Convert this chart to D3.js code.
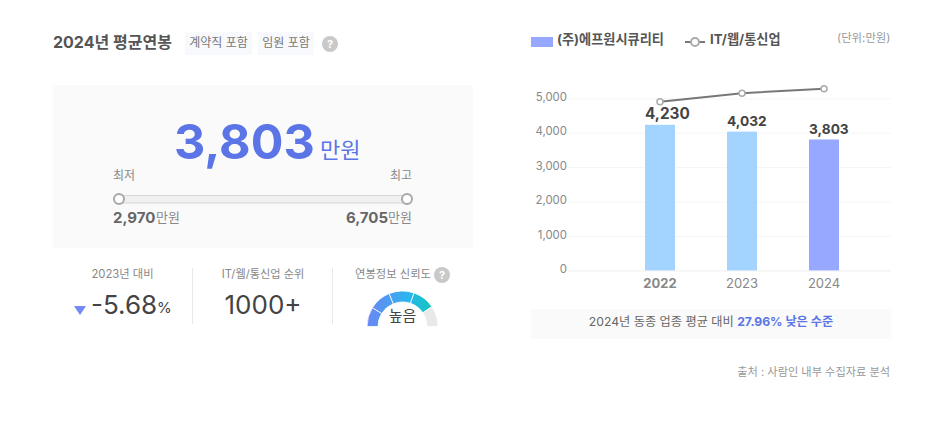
<!DOCTYPE html>
<html>
<head>
<meta charset="utf-8">
<script src="https://d3js.org/d3.v7.min.js"></script>
<style>
body { margin: 0; background: #fff; }
text { font-family: Inter, "Noto Sans CJK KR", sans-serif; }
</style>
</head>
<body>
<div id="vis"></div>
<script>
'use strict';

// 데이터
var years = ['2022', '2023', '2024'];
var companySalary = [4230, 4032, 3803];
var industrySalary = [4900, 5150, 5280];
var yTicks = [0, 1000, 2000, 3000, 4000, 5000];
var salaryMin = 2970;
var salaryMax = 6705;
var salaryAvg = 3803;
var gaugeSegments = [32, 36, 41, 37, 34]; // 신뢰도 게이지 구간(도)
var gaugeFilled = 4;

var svg = d3.select('#vis').append('svg')
	.attr('width', 949)
	.attr('height', 426)
	.style('display', 'block');

function label(x, y, str, size, color, anchor, weight) {
	return svg.append('text')
		.attr('x', x)
		.attr('y', y)
		.attr('dy', '0.35em')
		.attr('text-anchor', anchor || 'start')
		.attr('font-size', size)
		.attr('font-weight', weight || 400)
		.attr('fill', color)
		.text(str);
}

function helpIcon(x, y) {
	svg.append('circle').attr('cx', x).attr('cy', y).attr('r', 8).attr('fill', '#c9c9c9');
	label(x, y, '?', 11, '#fff', 'middle', 700);
}

// 왼쪽 제목
label(53, 42, '2024년 평균연봉', 16, '#555', 'start', 700);
svg.append('rect').attr('x', 185).attr('y', 32).attr('width', 67).attr('height', 23).attr('fill', '#f8f9fd');
svg.append('rect').attr('x', 258).attr('y', 32).attr('width', 56).attr('height', 23).attr('fill', '#f8f9fd');
label(218.5, 43, '계약직 포함', 12, '#777', 'middle');
label(286, 43, '임원 포함', 12, '#777', 'middle');
helpIcon(330, 44);

// 평균 연봉 패널
svg.append('rect').attr('x', 53).attr('y', 85).attr('width', 420).attr('height', 163).attr('fill', '#fafafa');
label(174, 142, d3.format(',')(salaryAvg), 48.5, '#5b75e6', 'start', 700);
label(320, 150, '만원', 22, '#5b75e6');

// 최저~최고 범위
var rangeX = d3.scaleLinear().domain([salaryMin, salaryMax]).range([119, 407]);
label(113, 176, '최저', 12, '#888');
label(412, 176, '최고', 12, '#888', 'end');
svg.append('rect')
	.attr('x', rangeX(salaryMin)).attr('y', 195.5)
	.attr('width', rangeX(salaryMax) - rangeX(salaryMin)).attr('height', 7.5)
	.attr('fill', '#f0f0f0').attr('stroke', '#d6d6d6');
svg.selectAll('.end').data([salaryMin, salaryMax]).enter().append('circle')
	.attr('class', 'end')
	.attr('cx', function(d) { return rangeX(d); })
	.attr('cy', 199)
	.attr('r', 5)
	.attr('fill', '#fff')
	.attr('stroke', '#a8a8a8')
	.attr('stroke-width', 2);
label(113, 218, d3.format(',')(salaryMin), 15, '#666', 'start', 700);
label(156, 217, '만원', 13, '#888');
label(388, 218, d3.format(',')(salaryMax), 15, '#666', 'end', 700);
label(388, 217, '만원', 13, '#888');

// 하단 지표
svg.selectAll('.sep').data([192.5, 332.5]).enter().append('line')
	.attr('class', 'sep')
	.attr('x1', function(d) { return d; }).attr('x2', function(d) { return d; })
	.attr('y1', 268).attr('y2', 324)
	.attr('stroke', '#e8e8e8');
label(122.5, 274, '2023년 대비', 11.3, '#888', 'middle');
svg.append('path').attr('d', 'M74,306H86L80,315Z').attr('fill', '#7489f5');
label(91, 305, '-5.68', 26, '#444');
label(157, 308, '%', 15, '#444');
label(263, 274, 'IT/웹/통신업 순위', 11.2, '#888', 'middle');
label(263, 305, '1000+', 26, '#444', 'middle');
label(393, 274, '연봉정보 신뢰도', 11.3, '#888', 'middle');
helpIcon(442, 275);

// 신뢰도 게이지
var defs = svg.append('defs');
var grad = defs.append('linearGradient')
	.attr('id', 'gaugeGrad')
	.attr('gradientUnits', 'userSpaceOnUse')
	.attr('x1', -35.5).attr('x2', 29.5).attr('y1', 0).attr('y2', 0);
[['0%', '#6b87f5'], ['35%', '#4b9df0'], ['65%', '#29b7ee'], ['100%', '#12c5b8']].forEach(function(s) {
	grad.append('stop').attr('offset', s[0]).attr('stop-color', s[1]);
});
defs.append('clipPath').attr('id', 'gaugeClip')
	.append('rect').attr('x', 360).attr('y', 285).attr('width', 85).attr('height', 42);
var pie = d3.pie().sort(null).startAngle(-Math.PI / 2).endAngle(Math.PI / 2);
var arc = d3.arc().innerRadius(24.5).outerRadius(35.5);
svg.append('g')
	.attr('clip-path', 'url(#gaugeClip)')
	.append('g')
	.attr('transform', 'translate(402.5,326.5)')
	.selectAll('path').data(pie(gaugeSegments)).enter().append('path')
	.attr('d', arc)
	.attr('stroke', '#fff')
	.attr('stroke-width', 0.8)
	.attr('fill', function(d, i) { return i < gaugeFilled ? 'url(#gaugeGrad)' : '#e9e9e9'; });
label(402.5, 316, '높음', 15, '#444', 'middle');

// 오른쪽 범례
svg.append('rect').attr('x', 531).attr('y', 37).attr('width', 22).attr('height', 10).attr('fill', '#96a8ff');
label(557, 39, '(주)에프원시큐리티', 13.2, '#555', 'start', 700);
svg.append('line').attr('x1', 685).attr('x2', 705).attr('y1', 42).attr('y2', 42).attr('stroke', '#777').attr('stroke-width', 2);
svg.append('circle').attr('cx', 695).attr('cy', 42).attr('r', 4).attr('fill', '#fff').attr('stroke', '#aaa').attr('stroke-width', 2);
label(710, 39, 'IT/웹/통신업', 13.2, '#555', 'start', 700);
label(890.5, 38, '(단위:만원)', 11.4, '#999', 'end');

// 막대 + 선 차트
var x = d3.scaleBand().domain(years).range([619, 865]).paddingInner(52 / 82).paddingOuter(26 / 82);
var y = d3.scaleLinear().domain([0, 5000]).range([270.4, 98.3]);

var yAxis = svg.append('g')
	.attr('transform', 'translate(568,0)')
	.call(d3.axisLeft(y).tickValues(yTicks).tickFormat(d3.format(',')).tickSize(0).tickPadding(1));
yAxis.select('.domain').remove();
yAxis.selectAll('text')
	.attr('font-size', 11.4)
	.attr('font-family', null)
	.attr('fill', '#888')
	.attr('y', -1.5);
yAxis.selectAll('.tick').append('line')
	.attr('x1', 0).attr('x2', 323)
	.attr('stroke', function(d) { return d === 0 ? '#eee' : '#f5f5f5'; });

svg.selectAll('.bar').data(years).enter().append('rect')
	.attr('class', 'bar')
	.attr('x', function(d) { return x(d); })
	.attr('y', function(d, i) { return y(companySalary[i]); })
	.attr('width', x.bandwidth())
	.attr('height', function(d, i) { return y(0) - y(companySalary[i]); })
	.attr('fill', function(d, i) { return i === years.length - 1 ? '#96a8ff' : '#a3d3ff'; });

var cx = function(d) { return x(d) + x.bandwidth() / 2; };
// 값 라벨은 막대 왼쪽 끝에 맞춤
svg.selectAll('.val').data(years).enter().append('text')
	.attr('class', 'val')
	.attr('x', function(d) { return x(d); })
	.attr('y', function(d, i) { return y(companySalary[i]) - 6; })
	.attr('font-size', function(d, i) { return i === 0 ? 15.3 : 13.7; })
	.attr('font-weight', 700)
	.attr('fill', '#444')
	.text(function(d, i) { return d3.format(',')(companySalary[i]); });

var line = d3.line()
	.x(function(d) { return cx(d); })
	.y(function(d, i) { return y(industrySalary[i]); });
svg.append('path').datum(years)
	.attr('d', line)
	.attr('fill', 'none')
	.attr('stroke', '#777')
	.attr('stroke-width', 2);
svg.selectAll('.pt').data(years).enter().append('circle')
	.attr('class', 'pt')
	.attr('cx', cx)
	.attr('cy', function(d, i) { return y(industrySalary[i]); })
	.attr('r', 3)
	.attr('fill', '#fff')
	.attr('stroke', '#aaa')
	.attr('stroke-width', 1.5);

var xAxis = svg.append('g')
	.attr('transform', 'translate(0,270.4)')
	.call(d3.axisBottom(x).tickSize(0).tickPadding(8));
xAxis.select('.domain').remove();
xAxis.selectAll('text')
	.attr('font-size', 13)
	.attr('font-family', null)
	.attr('fill', '#888')
	.attr('font-weight', function(d) { return d === '2022' ? 700 : 400; });

// 하단 문구
svg.append('rect').attr('x', 531).attr('y', 309).attr('width', 360).attr('height', 30).attr('fill', '#fafafa');
var note = svg.append('text')
	.attr('x', 711).attr('y', 322).attr('dy', '0.35em')
	.attr('text-anchor', 'middle').attr('font-size', 12.2).attr('fill', '#666');
note.append('tspan').text('2024년 동종 업종 평균 대비 ');
note.append('tspan').attr('font-weight', 700).attr('fill', '#5b75e6').text('27.96% 낮은 수준');
label(890, 372, '출처 : 사람인 내부 수집자료 분석', 11.2, '#999', 'end');
</script>
</body>
</html>
